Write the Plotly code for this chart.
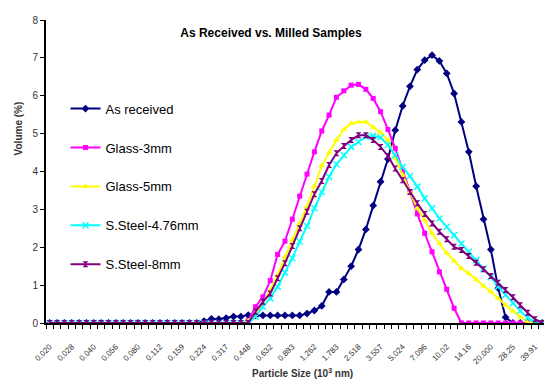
import plotly.graph_objects as go

# Particle size categories (10^3 nm), Malvern-style bins
sizes = ["0.020", "0.022", "0.025", "0.028", "0.032", "0.036", "0.040", "0.045", "0.050", "0.056",
         "0.063", "0.071", "0.080", "0.089", "0.100", "0.112", "0.126", "0.142", "0.159", "0.178",
         "0.200", "0.224", "0.252", "0.283", "0.317", "0.356", "0.399", "0.448", "0.502", "0.564",
         "0.632", "0.710", "0.796", "0.893", "1.002", "1.125", "1.262", "1.416", "1.589", "1.783",
         "2.000", "2.244", "2.518", "2.825", "3.170", "3.557", "3.991", "4.477", "5.024", "5.637",
         "6.325", "7.096", "7.962", "8.934", "10.024", "11.247", "12.619", "14.159", "15.887", "17.825",
         "20.000", "22.440", "25.179", "28.251", "31.698", "35.566", "39.905", "44.774"]

tick_labels = ["0.020", "0.028", "0.040", "0.056", "0.080", "0.112", "0.159", "0.224", "0.317",
               "0.448", "0.632", "0.893", "1.262", "1.783", "2.518", "3.557", "5.024", "7.096",
               "10.02", "14.16", "20.000", "28.25", "39.91"]

as_received = [0, 0, 0, 0, 0, 0, 0, 0, 0, 0,
               0, 0, 0, 0, 0, 0, 0, 0, 0, 0,
               0, 0.05, 0.11, 0.10, 0.13, 0.17, 0.17, 0.21, 0.20, 0.20,
               0.20, 0.20, 0.20, 0.20, 0.20, 0.25, 0.33, 0.45, 0.82, 0.82,
               1.15, 1.50, 1.94, 2.47, 3.10, 3.73, 4.33, 5.09, 5.73, 6.25,
               6.69, 6.94, 7.07, 6.92, 6.59, 6.06, 5.31, 4.52, 3.61, 2.74,
               1.94, 0.92, 0.15, 0, 0, 0, 0, 0]

glass_3mm = [0, 0, 0, 0, 0, 0, 0, 0, 0, 0,
             0, 0, 0, 0, 0, 0, 0, 0, 0, 0,
             0, 0, 0, 0, 0, 0, 0, 0.06, 0.43, 0.69,
             1.12, 1.81, 2.16, 2.74, 3.35, 3.93, 4.52, 5.07, 5.49, 5.96,
             6.13, 6.28, 6.30, 6.17, 5.93, 5.58, 5.11, 4.61, 4.04, 3.46,
             2.88, 2.37, 1.88, 1.35, 0.89, 0.39, 0, 0, 0, 0,
             0, 0, 0, 0, 0, 0, 0, 0]

glass_5mm = [0, 0, 0, 0, 0, 0, 0, 0, 0, 0,
             0, 0, 0, 0, 0, 0, 0, 0, 0, 0,
             0, 0, 0, 0, 0, 0, 0, 0.05, 0.26, 0.52,
             0.87, 1.27, 1.75, 2.19, 2.63, 3.07, 3.61, 4.15, 4.50, 4.83,
             5.11, 5.27, 5.31, 5.31, 5.17, 5.02, 4.83, 4.35, 3.91, 3.46,
             3.03, 2.72, 2.37, 2.10, 1.84, 1.64, 1.44, 1.31, 1.15, 0.98,
             0.83, 0.65, 0.47, 0.32, 0.15, 0.01, 0, 0]

steel_476mm = [0, 0, 0, 0, 0, 0, 0, 0, 0, 0,
               0, 0, 0, 0, 0, 0, 0, 0, 0, 0,
               0, 0, 0, 0, 0, 0, 0, 0, 0.17, 0.43,
               0.65, 0.96, 1.33, 1.71, 2.15, 2.56, 3.03, 3.46, 3.86, 4.19,
               4.43, 4.65, 4.78, 4.92, 4.94, 4.90, 4.70, 4.43, 4.12, 3.88,
               3.60, 3.29, 3.03, 2.76, 2.54, 2.32, 2.10, 1.88, 1.66, 1.44,
               1.21, 0.96, 0.74, 0.52, 0.32, 0.14, 0.01, 0]

steel_8mm = [0, 0, 0, 0, 0, 0, 0, 0, 0, 0,
             0, 0, 0, 0, 0, 0, 0, 0, 0, 0,
             0, 0, 0, 0, 0, 0, 0, 0, 0.30, 0.56,
             0.78, 1.18, 1.58, 2.03, 2.50, 2.94, 3.40, 3.75, 4.17, 4.48,
             4.67, 4.83, 4.96, 4.96, 4.83, 4.65, 4.41, 4.08, 3.77, 3.46,
             3.16, 2.88, 2.63, 2.41, 2.21, 2.01, 1.93, 1.77, 1.59, 1.42,
             1.24, 1.06, 0.87, 0.68, 0.47, 0.27, 0.10, 0]

series = [
    ("As received", as_received, "#000080", "diamond", 6),
    ("Glass-3mm", glass_3mm, "#FF00FF", "square", 5),
    ("Glass-5mm", glass_5mm, "#FFFF00", "triangle-up", 6),
    ("S.Steel-4.76mm", steel_476mm, "#00FFFF", "x-thin", 6),
    ("S.Steel-8mm", steel_8mm, "#800080", "hourglass", 6),
]

FONT = "Arial, Liberation Sans, sans-serif"

# page body has an 8px default margin; figure is sized to fill the rest of the window
W, H = 544, 371
ML, MT, MR, MB = 37.6, 12, 5.9, 55.7
PW, PH = W - ML - MR, H - MT - MB

fig = go.Figure()
for name, vals, color, sym, ms in series:
    marker = dict(symbol=sym, size=ms, color=color)
    if sym == "x-thin":
        marker["line"] = dict(color=color, width=1.5)
    fig.add_trace(go.Scatter(
        x=sizes, y=vals, mode="lines+markers", name=name, legendgroup=name,
        line=dict(color=color, width=2), marker=marker,
    ))

ticktext = []
for i, s in enumerate(sizes):
    ticktext.append(tick_labels[i // 3] if i % 3 == 0 else "")

fig.update_layout(
    width=W, height=H,
    margin=dict(l=ML, r=MR, t=MT, b=MB, autoexpand=False),
    paper_bgcolor="white", plot_bgcolor="white",
    font=dict(family=FONT, color="#000000"),
    title=dict(text="<b>As Received vs. Milled Samples</b>", x=263 / W, xanchor="center",
               y=1 - 25 / H, yanchor="middle", font=dict(size=12, family=FONT, color="#000")),
    showlegend=True,
    legend=dict(x=0.039, y=0.757, xanchor="left", yanchor="top", bgcolor="rgba(0,0,0,0)",
                font=dict(size=13, family=FONT, color="#000"), tracegroupgap=19, itemwidth=30),
    xaxis=dict(type="category", tickmode="array", tickvals=sizes, ticktext=ticktext,
               tickson="boundaries", ticks="outside", ticklen=4, tickwidth=1, tickcolor="#000",
               tickangle=-45, tickfont=dict(size=8, family=FONT, color="#333"),
               ticklabelstandoff=14,
               showline=True, linecolor="#000", linewidth=2, showgrid=False, zeroline=False,
               range=[-0.5, len(sizes) - 0.5]),
    yaxis=dict(range=[0, 8], dtick=1, ticks="outside", ticklen=4, tickwidth=1, tickcolor="#000",
               tickfont=dict(size=10, family=FONT, color="#333"),
               showline=True, linecolor="#000", linewidth=2, showgrid=False, zeroline=False),
    annotations=[
        dict(text="<b>Volume (%)</b>", xref="paper", yref="paper", x=-28 / PW,
             y=(315.3 - 120.5) / PH, textangle=-90, showarrow=False,
             xanchor="center", yanchor="middle", font=dict(size=10, family=FONT, color="#333")),
        dict(text="<b>Particle Size (10<sup>3</sup> nm)</b>", xref="paper", yref="paper",
             x=(294.5 - ML) / PW, y=-(365 - 315.3) / PH, showarrow=False,
             xanchor="center", yanchor="middle", font=dict(size=10, family=FONT, color="#333")),
    ],
)

fig.write_html("out.html")
